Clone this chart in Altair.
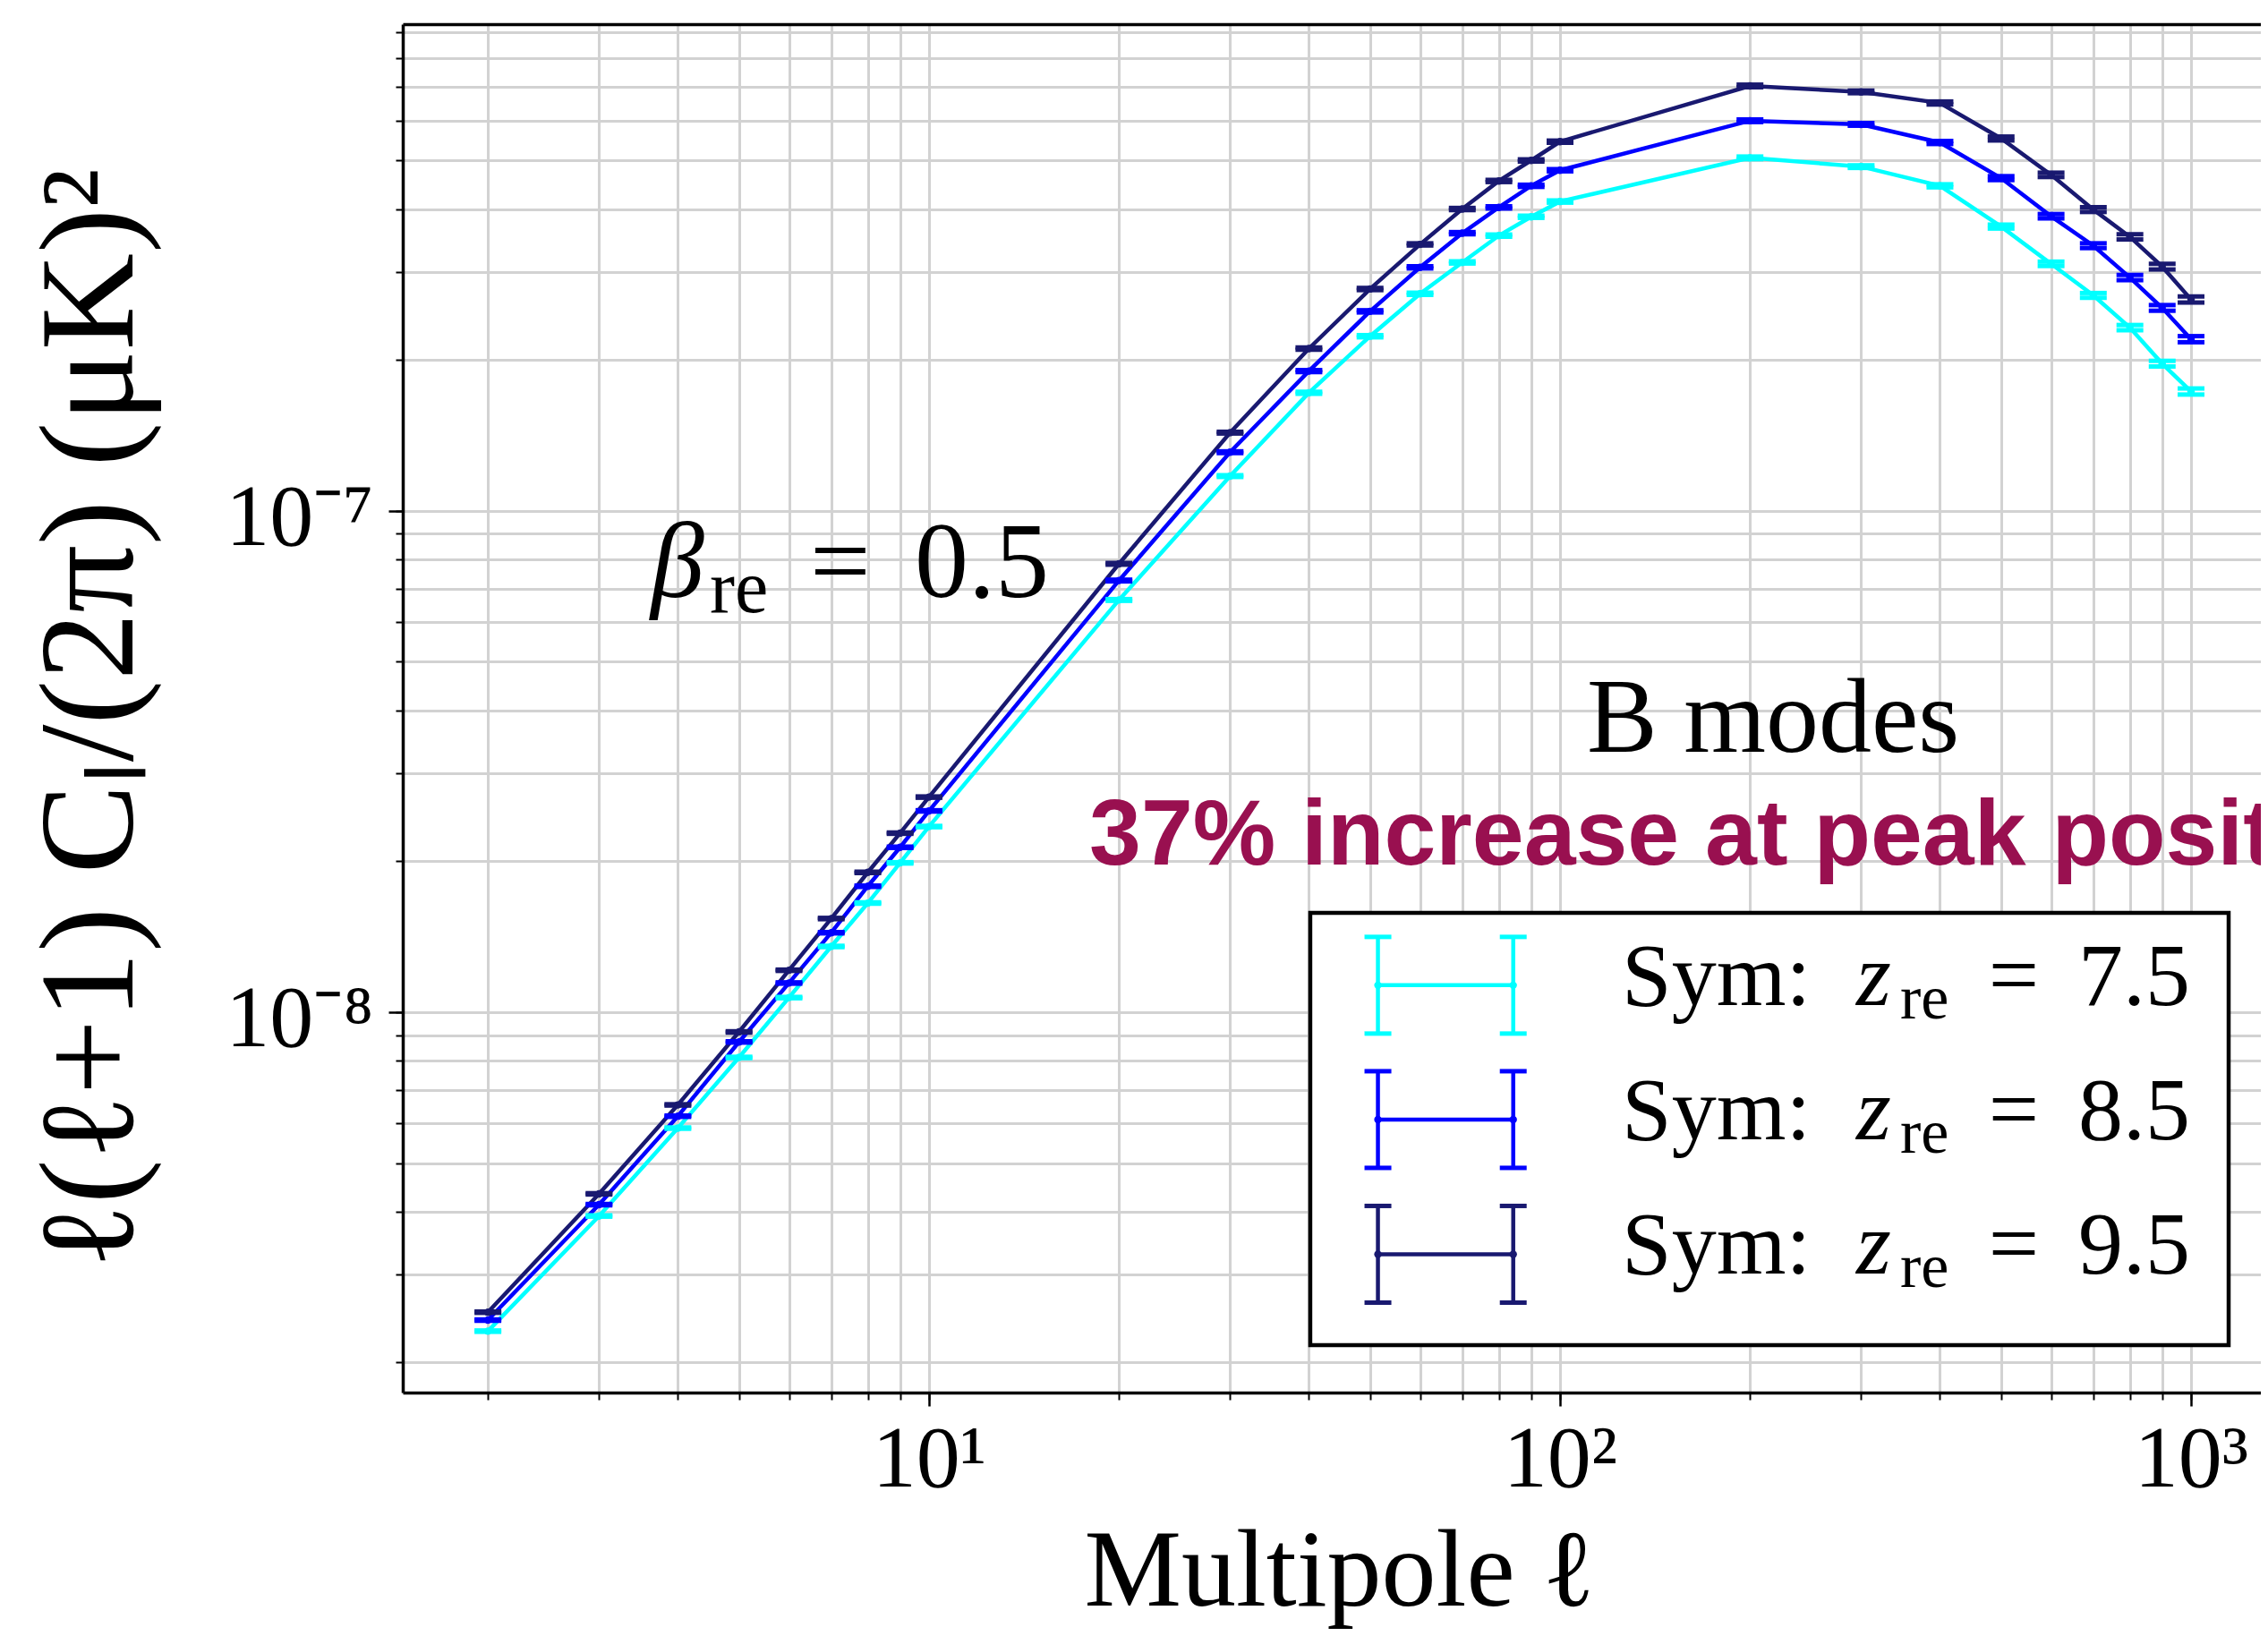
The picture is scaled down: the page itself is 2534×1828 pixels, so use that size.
import altair as alt
import pandas as pd

# ---------------- values ----------------
ell = [2, 3, 4, 5, 6, 7, 8, 9, 10, 20, 30, 40, 50, 60, 70, 80, 90, 100,
       200, 300, 400, 500, 600, 700, 800, 900, 1000]

cl_sym_75 = [2.31e-9, 3.92e-9, 5.87e-9, 8.12e-9, 1.069e-8, 1.352e-8, 1.65e-8, 1.985e-8, 2.345e-8,
             6.64e-8, 1.173e-7, 1.72e-7, 2.23e-7, 2.71e-7, 3.13e-7, 3.54e-7, 3.86e-7, 4.14e-7,
             5.06e-7, 4.86e-7, 4.45e-7, 3.69e-7, 3.11e-7, 2.69e-7, 2.32e-7, 1.966e-7, 1.73e-7]
cl_sym_85 = [2.43e-9, 4.13e-9, 6.20e-9, 8.72e-9, 1.143e-8, 1.44e-8, 1.783e-8, 2.132e-8, 2.52e-8,
             7.26e-8, 1.309e-7, 1.90e-7, 2.50e-7, 3.06e-7, 3.58e-7, 4.03e-7, 4.45e-7, 4.78e-7,
             6.00e-7, 5.90e-7, 5.43e-7, 4.61e-7, 3.87e-7, 3.38e-7, 2.92e-7, 2.54e-7, 2.20e-7]
cl_sym_95 = [2.52e-9, 4.34e-9, 6.53e-9, 9.13e-9, 1.212e-8, 1.537e-8, 1.90e-8, 2.275e-8, 2.685e-8,
             7.84e-8, 1.432e-7, 2.107e-7, 2.77e-7, 3.40e-7, 4.00e-7, 4.55e-7, 5.00e-7, 5.45e-7,
             7.04e-7, 6.85e-7, 6.51e-7, 5.53e-7, 4.68e-7, 3.99e-7, 3.52e-7, 3.07e-7, 2.64e-7]
# relative half-size of the error bars
rel_err = [0.003, 0.003, 0.003, 0.003, 0.003, 0.003, 0.003, 0.003, 0.003,
           0.004, 0.004, 0.005, 0.005, 0.005, 0.005, 0.005, 0.005, 0.005,
           0.006, 0.006, 0.007, 0.009, 0.010, 0.011, 0.012, 0.013, 0.014]

series_z = ["7.5", "8.5", "9.5"]
series_colors = ["#00FFFF", "#0000FF", "#191970"]

x_major_ticks = [10, 100, 1000]
x_major_labels = ["10\u00b9", "10\u00b2", "10\u00b3"]
x_minor_ticks = [2, 3, 4, 5, 6, 7, 8, 9, 10, 20, 30, 40, 50, 60, 70, 80, 90,
                 100, 200, 300, 400, 500, 600, 700, 800, 900, 1000]
y_major_ticks = [1e-8, 1e-7]
y_major_labels = ["10\u207b\u2078", "10\u207b\u2077"]
y_minor_ticks = [2e-9, 3e-9, 4e-9, 5e-9, 6e-9, 7e-9, 8e-9, 9e-9,
                 1e-8, 2e-8, 3e-8, 4e-8, 5e-8, 6e-8, 7e-8, 8e-8, 9e-8,
                 1e-7, 2e-7, 3e-7, 4e-7, 5e-7, 6e-7, 7e-7, 8e-7, 9e-7]

x_title = "Multipole \u2113"
y_title = "\u2113(\u2113+1) C\u2097/(2\u03c0) (\u03bcK)\u00b2"

# annotation anchors (data coordinates)
ann_beta = {"x": 3.622, "y": 6.73e-8}
ann_bmodes = {"x": 110.3, "y": 3.309e-8, "text": "B modes"}
ann_peak = {"x": 17.95, "y": 1.971e-8, "text": "37% increase at peak position"}

legend_box = {"x": 40.2, "x2": 1147.0, "y": 1.578e-8, "y2": 2.166e-9}
legend_rows_c = [1.1314e-8, 6.105e-9, 3.288e-9]
legend_handle_x = [51.46, 84.31]
legend_bar_factor = 1.2486
legend_text_x = 125.3

X_DOMAIN = [1.466, 1290.0]
Y_DOMAIN = [1.742e-9, 9.35e-7]

# ---------------- tables ----------------
rows = []
for z, cl in zip(series_z, [cl_sym_75, cl_sym_85, cl_sym_95]):
    for l, c, e in zip(ell, cl, rel_err):
        rows.append({"ell": l, "cl": c, "lo": c * (1 - e), "hi": c * (1 + e), "z": z})
df = pd.DataFrame(rows)

handle_rows, hline_rows, ltext_rows = [], [], []
for z, c in zip(series_z, legend_rows_c):
    for hx in legend_handle_x:
        handle_rows.append({"x": hx, "c": c, "top": c * legend_bar_factor,
                            "bot": c / legend_bar_factor, "z": z})
    hline_rows.append({"x": legend_handle_x[0], "x2": legend_handle_x[1], "c": c, "z": z})
    ltext_rows.append({"x": legend_text_x, "c": c, "z": z})
handle_df = pd.DataFrame(handle_rows)
hline_df = pd.DataFrame(hline_rows)
ltext_df = pd.DataFrame(ltext_rows)
box_df = pd.DataFrame([legend_box])


def label_expr(vals, labels):
    expr = "'" + labels[-1] + "'"
    for v, lab in reversed(list(zip(vals[:-1], labels[:-1]))):
        expr = f"abs(log(datum.value) - log({v})) < 0.01 ? '{lab}' : " + expr
    return expr


xs = alt.Scale(type="log", domain=X_DOMAIN, nice=False)
ys = alt.Scale(type="log", domain=Y_DOMAIN, nice=False)
cscale = alt.Scale(domain=series_z, range=series_colors)
GRID = "#d2d2d2"
SERIF = "Liberation Serif"
LW = 4.5      # line width
CAP_T = 5     # cap thickness
CAP_W = 30    # cap width

x_minor_axis = alt.Axis(orient="bottom", values=x_minor_ticks, grid=True, gridColor=GRID, gridWidth=3,
                        ticks=True, tickSize=8, tickWidth=2, tickColor="black", labels=False,
                        domain=True, domainColor="black", domainWidth=3.5, title=None)
x_major_axis = alt.Axis(orient="bottom", values=x_major_ticks, grid=False, ticks=True, tickSize=15,
                        tickWidth=2.5, tickColor="black", domain=False, labels=True,
                        labelExpr=label_expr(x_major_ticks, x_major_labels), labelFont=SERIF,
                        labelFontSize=98, labelColor="black", labelBaseline="alphabetic",
                        labelAlign="center", labelPadding=89, labelFlush=False, labelOverlap=False,
                        labelBound=False, title=x_title, titleFont=SERIF, titleFontSize=122,
                        titleFontWeight="normal", titleColor="black", titleX=1046, titleY=237,
                        titleAlign="center", titleBaseline="alphabetic", titleAngle=0)
x_top_axis = alt.Axis(orient="top", grid=False, ticks=False, labels=False, domain=True,
                      domainColor="black", domainWidth=3.5, title=None)
y_minor_axis = alt.Axis(orient="left", values=y_minor_ticks, grid=True, gridColor=GRID, gridWidth=3,
                        ticks=True, tickSize=8, tickWidth=2, tickColor="black", labels=False,
                        domain=True, domainColor="black", domainWidth=3.5, title=None)
y_major_axis = alt.Axis(orient="left", values=y_major_ticks, grid=False, ticks=True, tickSize=16,
                        tickWidth=2.5, tickColor="black", domain=False, labels=True,
                        labelExpr=label_expr(y_major_ticks, y_major_labels), labelFont=SERIF,
                        labelFontSize=98, labelColor="black", labelBaseline="alphabetic",
                        labelAlign="right", labelPadding=17, labelOffset=38, labelFlush=False,
                        labelOverlap=False, labelBound=False, title=y_title, titleFont=SERIF,
                        titleFontSize=150, titleFontWeight="normal", titleColor="black",
                        titleX=-303, titleY=775, titleAlign="center", titleBaseline="alphabetic",
                        titleAngle=270)

color = alt.Color("z:N", scale=cscale, legend=None)

base = alt.Chart(df)
lines = base.mark_line(strokeWidth=LW).encode(
    x=alt.X("ell:Q", scale=xs, axis=x_minor_axis),
    y=alt.Y("cl:Q", scale=ys, axis=y_minor_axis),
    color=color, order="ell:Q")
errs = base.mark_rule(strokeWidth=LW).encode(
    x=alt.X("ell:Q", scale=xs, axis=x_major_axis),
    y=alt.Y("lo:Q", scale=ys, axis=y_major_axis), y2="hi:Q", color=color)
caps_lo = base.mark_tick(orient="horizontal", size=CAP_W, thickness=CAP_T, opacity=1).encode(
    x=alt.X("ell:Q", scale=xs, axis=x_top_axis),
    y=alt.Y("lo:Q", scale=ys, axis=None), color=color)
caps_hi = base.mark_tick(orient="horizontal", size=CAP_W, thickness=CAP_T, opacity=1).encode(
    x=alt.X("ell:Q", scale=xs, axis=None),
    y=alt.Y("hi:Q", scale=ys, axis=None), color=color)
points = base.mark_circle(size=70, opacity=1).encode(
    x=alt.X("ell:Q", scale=xs, axis=None),
    y=alt.Y("cl:Q", scale=ys, axis=None), color=color)

# legend (drawn in data coordinates)
box = alt.Chart(box_df).mark_rect(fill="white", stroke="black", strokeWidth=4.5).encode(
    x=alt.X("x:Q", scale=xs, axis=None), x2="x2:Q",
    y=alt.Y("y:Q", scale=ys, axis=None), y2="y2:Q")
hbars = alt.Chart(handle_df).mark_rule(strokeWidth=LW).encode(
    x=alt.X("x:Q", scale=xs, axis=None),
    y=alt.Y("bot:Q", scale=ys, axis=None), y2="top:Q", color=color)
hcap_t = alt.Chart(handle_df).mark_tick(orient="horizontal", size=CAP_W, thickness=CAP_T, opacity=1).encode(
    x=alt.X("x:Q", scale=xs, axis=None),
    y=alt.Y("top:Q", scale=ys, axis=None), color=color)
hcap_b = alt.Chart(handle_df).mark_tick(orient="horizontal", size=CAP_W, thickness=CAP_T, opacity=1).encode(
    x=alt.X("x:Q", scale=xs, axis=None),
    y=alt.Y("bot:Q", scale=ys, axis=None), color=color)
hline = alt.Chart(hline_df).mark_rule(strokeWidth=LW).encode(
    x=alt.X("x:Q", scale=xs, axis=None), x2="x2:Q",
    y=alt.Y("c:Q", scale=ys, axis=None), color=color)
hdots = alt.Chart(handle_df).mark_circle(size=70, opacity=1).encode(
    x=alt.X("x:Q", scale=xs, axis=None),
    y=alt.Y("c:Q", scale=ys, axis=None), color=color)


def ltext(text_kw, **mk):
    props = dict(font=SERIF, fontSize=100, color="black", align="left", baseline="alphabetic")
    props.update(mk)
    ch = alt.Chart(ltext_df).mark_text(**props)
    enc = dict(x=alt.X("x:Q", scale=xs, axis=None), y=alt.Y("c:Q", scale=ys, axis=None))
    enc.update(text_kw)
    return ch.encode(**enc)


lt_sym = ltext({}, text="Sym:", dx=0, dy=22)
lt_z = ltext({}, text="z", fontStyle="italic", dx=262, dy=22)
lt_re = ltext({}, text="re", fontSize=70, dx=311, dy=37)
lt_eq = ltext({}, text="=", align="center", dx=438, dy=22)
lt_val = ltext({"text": alt.Text("z:N")}, dx=510, dy=22)

# annotations
beta_df = pd.DataFrame([ann_beta])


def beta_part(**mk):
    props = dict(font=SERIF, fontSize=120, color="black", align="left", baseline="alphabetic")
    props.update(mk)
    return alt.Chart(beta_df).mark_text(**props).encode(
        x=alt.X("x:Q", scale=xs, axis=None), y=alt.Y("y:Q", scale=ys, axis=None))


b1 = beta_part(text="\u03b2", fontStyle="italic")
b2 = beta_part(text="re", fontSize=84, dx=66, dy=17)
b3 = beta_part(text="=", align="center", dx=212)
b4 = beta_part(text="0.5", dx=295)

bm = alt.Chart(pd.DataFrame([ann_bmodes])).mark_text(
    font=SERIF, fontSize=118, color="black", align="left", baseline="alphabetic").encode(
    x=alt.X("x:Q", scale=xs, axis=None), y=alt.Y("y:Q", scale=ys, axis=None), text="text:N")
pk = alt.Chart(pd.DataFrame([ann_peak])).mark_text(
    font="Liberation Sans", fontWeight="bold", fontSize=104, color="#991050", align="left",
    baseline="alphabetic", clip=True).encode(
    x=alt.X("x:Q", scale=xs, axis=None), y=alt.Y("y:Q", scale=ys, axis=None), text="text:N")

chart = alt.layer(
    lines, errs, caps_lo, caps_hi, points,
    box, hbars, hcap_t, hcap_b, hline, hdots,
    lt_sym, lt_z, lt_re, lt_eq, lt_val,
    b1, b2, b3, b4, bm, pk,
).resolve_axis(x="independent", y="independent").properties(
    width=2076, height=1529,
    autosize=alt.AutoSizeParams(type="none"),
    padding={"left": 442, "top": 19, "right": 0, "bottom": 264},
    background="white",
).configure_view(stroke=None)

chart.save("out.html", embed_options={"renderer": "svg", "actions": False})
